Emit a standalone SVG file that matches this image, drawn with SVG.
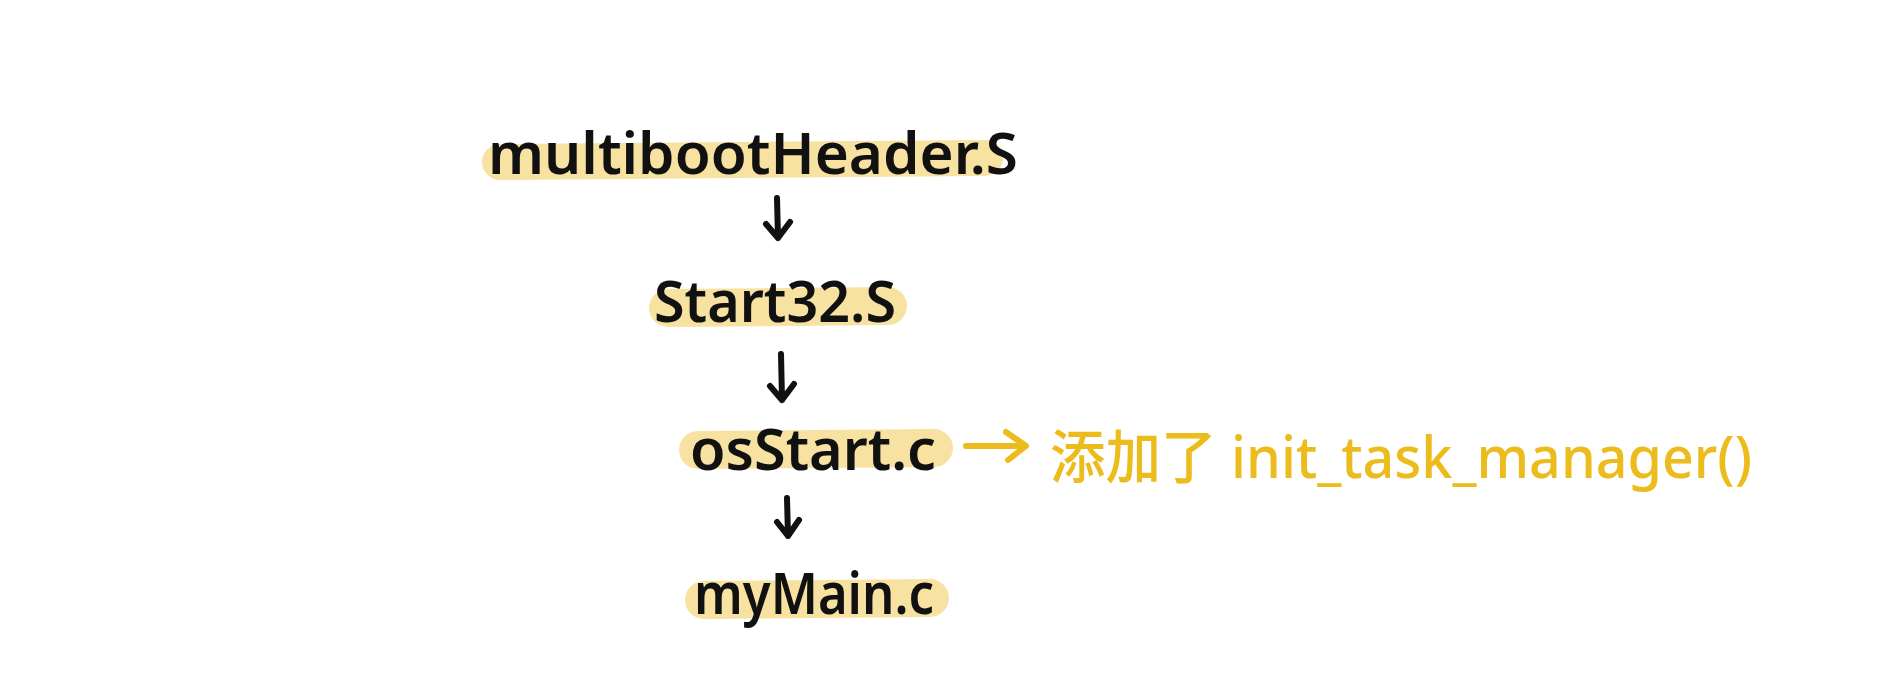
<svg xmlns="http://www.w3.org/2000/svg" width="1882" height="688" viewBox="0 0 1882 688">
<style>
.hl{stroke:#f8e2a2;stroke-linecap:round;fill:none}
.lbl{font-family:"Noto Sans","Liberation Sans",sans-serif;font-weight:600;fill:#111}
.note{font-family:"Noto Sans","Noto Sans CJK SC",sans-serif;font-weight:500;fill:#ecbb1c}
.arr{stroke:#111;stroke-width:6;fill:none;stroke-linecap:round;stroke-linejoin:round}
.yarr{stroke:#ecbb1c;stroke-width:6;fill:none;stroke-linecap:round;stroke-linejoin:round}
</style>
<rect width="1882" height="688" fill="#fff"/>
<g id="multibootHeader">
<path class="hl" d="M500 162 L985 158" stroke-width="36"/>
<text class="lbl" x="488" y="174" font-size="58" textLength="530" lengthAdjust="spacingAndGlyphs">multibootHeader.S</text>
</g>
<g id="start32">
<path class="hl" d="M668 308 L888 306" stroke-width="38"/>
<text class="lbl" x="654" y="322" font-size="58" textLength="242" lengthAdjust="spacingAndGlyphs">Start32.S</text>
</g>
<g id="osStart">
<path class="hl" d="M698 450 L934 448" stroke-width="38"/>
<text class="lbl" x="690" y="470" font-size="58" textLength="246" lengthAdjust="spacingAndGlyphs">osStart.c</text>
</g>
<g id="myMain">
<path class="hl" d="M704 600 L930 598" stroke-width="38"/>
<text class="lbl" x="694" y="614" font-size="58" textLength="240" lengthAdjust="spacingAndGlyphs">myMain.c</text>
</g>
<g id="note">
<text class="note" x="1050" y="478" font-size="58" textLength="702" lengthAdjust="spacingAndGlyphs">添加了 init_task_manager()</text>
</g>
<g id="connectors">
<path class="arr" d="M777 198 L778 238 M766 224 L778 238 L790 222"/>
<path class="arr" d="M781 354 L782 400 M770 386 L782 400 L794 384"/>
<path class="arr" d="M787 498 L788 536 M777 522 L788 536 L799 520"/>
<path class="yarr" d="M966 446 L1022 446 M1006 432 L1026 446 L1008 460"/>
</g>
</svg>
